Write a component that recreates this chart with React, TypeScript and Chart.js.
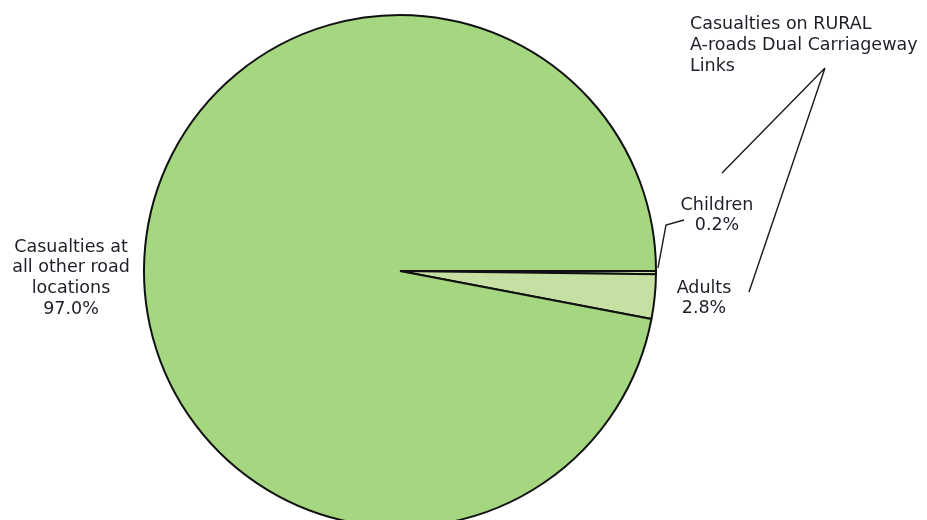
import React, { useEffect, useRef } from "react";
import { Chart, registerables } from "chart.js";

Chart.register(...registerables);

const categories = ["Children", "Adults", "Casualties at all other road locations"];
const values = [0.2, 2.8, 97.0];
const sliceColors = ["#c9e0a6", "#c6dfa2", "#a4d780"];
const groupTitle = ["Casualties on RURAL", "A-roads Dual Carriageway", "Links"];
const otherLabelLines = ["Casualties at", "all other road", "locations"];

const FONT = '17.5px "DejaVu Sans", Verdana, sans-serif';
const TEXT_COLOR = "#1e1e28";

const labelPlugin = {
  id: "pieLabels",
  afterDraw(chart: any) {
    const ctx = chart.ctx as CanvasRenderingContext2D;
    const meta = chart.getDatasetMeta(0);
    const arcC = meta.data[0] as any;
    const cx = arcC.x;
    const cy = arcC.y;
    const r = arcC.outerRadius;
    ctx.save();
    ctx.font = FONT;
    ctx.fillStyle = TEXT_COLOR;
    ctx.textBaseline = "middle";

    // Children label
    const childX = cx + r + 61;
    const childY = cy - 66;
    ctx.textAlign = "center";
    ctx.fillText(categories[0], childX, childY);
    ctx.fillText(values[0].toFixed(1) + "%", childX, childY + 20);

    // Adults label
    const adX = cx + r + 48;
    const adY = cy + 17;
    ctx.fillText(categories[1], adX, adY);
    ctx.fillText(values[1].toFixed(1) + "%", adX, adY + 20);

    // Other label
    const oX = cx - r - 73;
    const oY = cy - 24;
    otherLabelLines.forEach((t, i) => ctx.fillText(t, oX, oY + i * 20.7));
    ctx.fillText(values[2].toFixed(1) + "%", oX, oY + 3 * 20.7);

    // Group title
    ctx.textAlign = "left";
    const gX = cx + r + 34;
    const gY = cy - 247;
    groupTitle.forEach((t, i) => ctx.fillText(t, gX, gY + i * 21));

    // Leader lines
    ctx.strokeStyle = "#1a1a1a";
    ctx.lineWidth = 1.4;
    const edgeAng = arcC.startAngle - 0.012;
    const ex = cx + r * Math.cos(edgeAng) + 2;
    const ey = cy + r * Math.sin(edgeAng);
    ctx.beginPath();
    ctx.moveTo(ex, ey);
    ctx.lineTo(cx + r + 10, cy - 46);
    ctx.lineTo(cx + r + 28, cy - 51);
    ctx.stroke();

    const apexX = cx + r + 169;
    const apexY = cy - 203;
    ctx.beginPath();
    ctx.moveTo(apexX, apexY);
    ctx.lineTo(cx + r + 66, cy - 98);
    ctx.moveTo(apexX, apexY);
    ctx.lineTo(cx + r + 93, cy + 21);
    ctx.stroke();
    ctx.restore();
  },
};

export default function App() {
  const ref = useRef<HTMLCanvasElement | null>(null);
  useEffect(() => {
    document.body.style.margin = "0";
    const chart = new Chart(ref.current as HTMLCanvasElement, {
      type: "pie",
      data: {
        labels: categories,
        datasets: [
          {
            data: values,
            backgroundColor: sliceColors,
            borderColor: "#111111",
            borderWidth: 2,
          },
        ],
      },
      options: {
        responsive: false,
        animation: false,
        rotation: 90,
        layout: { padding: { left: 143, right: 270, top: 14, bottom: 32 } },
        plugins: { legend: { display: false }, tooltip: { enabled: false } },
      },
      plugins: [labelPlugin],
    });
    return () => chart.destroy();
  }, []);
  return (
    <div style={{ position: "fixed", left: 0, top: 0, width: 927, height: 520, overflow: "hidden", background: "#fff" }}>
      <canvas ref={ref} width={927} height={560} style={{ display: "block" }} />
    </div>
  );
}
